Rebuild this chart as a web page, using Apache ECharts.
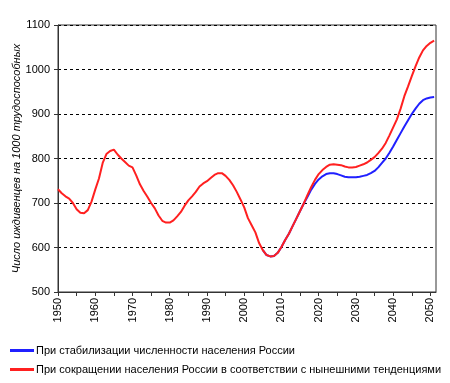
<!DOCTYPE html>
<html><head><meta charset="utf-8">
<script src="https://cdn.jsdelivr.net/npm/echarts@6/dist/echarts.min.js"></script>
<style>html,body{margin:0;padding:0;background:#fff}#c{width:450px;height:383px}</style>
</head><body><div id="c"></div>
<script>
const years = [];
for (let y = 1950; y <= 2051; y++) years.push(y);
const redValues = [731,722,715,710,700,686,678,677,684,703,
730,755,790,810,817,820,809,800,792,784,
780,762,742,727,714,700,688,672,660,656,
656,661,670,680,694,706,715,725,737,744,
749,756,763,767,767,761,752,740,725,708,
690,666,650,634,610,594,583,580,581,588,
601,617,631,648,665,682,699,718,736,752,
765,774,781,786,787,786,785,782,780,780,
781,784,787,791,797,803,812,822,835,852,
870,888,912,940,962,985,1007,1027,1043,1053,
1060,1065];
const blueStartYear = 2005;
const blueValues = [594,583,580,581,588,601,617,631,648,665,
682,699,714,730,743,753,760,765,767,767,
765,762,759,758,758,758,759,761,763,767,
772,780,790,800,813,827,842,857,872,886,
900,912,923,931,935,937,938];
const seriesNames = ['При стабилизации численности населения России',
  'При сокращении населения России в соответствии с нынешними тенденциями'];
const yAxisName = 'Число иждивенцев на 1000 трудоспособных';

const redData = years.map((y, i) => [y, redValues[i]]);
const blueData = blueValues.map((v, i) => [blueStartYear + i, v]);
const font = 'Arial, "Liberation Sans", sans-serif';

const chart = echarts.init(document.getElementById('c'), null, {renderer: 'canvas'});
chart.setOption({
  animation: false,
  backgroundColor: '#fff',
  textStyle: {fontFamily: font},
  grid: {left: 58, right: 14, top: 25, bottom: 91, show: true, borderColor: '#333', borderWidth: 1,
         containLabel: false, outerBoundsMode: 'none'},
  legend: {
    orient: 'vertical', left: 5, top: 340, itemWidth: 24, itemHeight: 3, itemGap: 8,
    icon: 'rect',
    textStyle: {fontFamily: font, fontSize: 11, color: '#000', padding: [0,0,0,-3]},
    data: seriesNames
  },
  xAxis: {
    type: 'value', min: 1950, max: 2051.5, interval: 5,
    axisLine: {lineStyle: {color: '#333', width: 1}},
    axisTick: {show: true, length: 4, lineStyle: {color: '#333'}},
    splitLine: {show: false},
    axisLabel: {rotate: 90, color: '#000', fontSize: 11, fontFamily: font, margin: 6,
      showMaxLabel: false,
      formatter: v => (v % 10 === 0 ? String(v) : '')}
  },
  yAxis: {
    type: 'value', min: 500, max: 1100, interval: 100,
    name: yAxisName, nameLocation: 'middle', nameGap: 36, nameMoveOverlap: false,
    nameTextStyle: {fontStyle: 'italic', fontSize: 11, color: '#000', fontFamily: font},
    axisLine: {show: true, lineStyle: {color: '#333', width: 1}},
    axisTick: {show: true, length: 4, lineStyle: {color: '#333'}},
    splitLine: {show: true, lineStyle: {color: '#000', type: [3, 3], width: 1}},
    axisLabel: {color: '#000', fontSize: 11, fontFamily: font, margin: 8,
      formatter: v => String(v)}
  },
  series: [
    {name: seriesNames[0], type: 'line', data: blueData, showSymbol: false, symbol: 'none',
     color: '#2020ff', lineStyle: {width: 2, color: '#2020ff'}, z: 2},
    {name: seriesNames[1], type: 'line', data: redData, showSymbol: false, symbol: 'none',
     color: '#ff2020', lineStyle: {width: 2, color: '#ff2020'}, z: 3}
  ]
});
</script></body></html>
